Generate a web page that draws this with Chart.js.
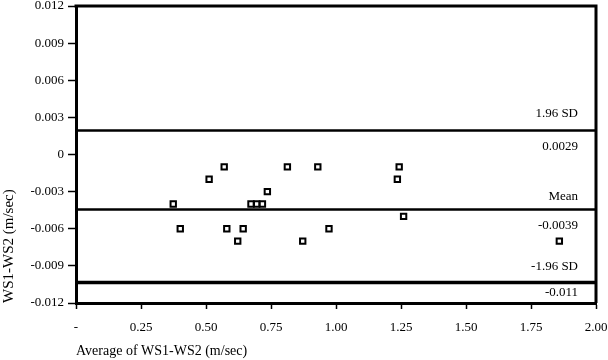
<!DOCTYPE html>
<html>
<head>
<meta charset="utf-8">
<script src="https://cdn.jsdelivr.net/npm/chart.js@4/dist/chart.umd.min.js"></script>
<style>
html,body{margin:0;padding:0;background:#fff;}
#wrap{width:608px;height:360px;position:relative;}
</style>
</head>
<body>
<div id="wrap"><canvas id="c" width="608" height="360"></canvas></div>
<script>
// Data
const avgValues  = [0.374, 0.401, 0.512, 0.570, 0.580, 0.622, 0.643, 0.673, 0.695, 0.717, 0.736, 0.813, 0.872, 0.930, 0.973, 1.236, 1.243, 1.260, 1.859];
const diffValues = [-0.004, -0.006, -0.002, -0.001, -0.006, -0.007, -0.006, -0.004, -0.004, -0.004, -0.003, -0.001, -0.007, -0.001, -0.006, -0.002, -0.001, -0.005, -0.007];
const refLineValues = [0.00193, -0.00445, -0.01035];   // +1.96 SD, mean, -1.96 SD (as drawn)
const refLineWidths = [2.5, 2.5, 3.5];
const labelsAbove = ['1.96 SD', 'Mean', '-1.96 SD'];
const labelsBelow = ['0.0029', '-0.0039', '-0.011'];
const xTicks = [0, 0.25, 0.5, 0.75, 1.0, 1.25, 1.5, 1.75, 2.0];
const yTicks = [0.012, 0.009, 0.006, 0.003, 0, -0.003, -0.006, -0.009, -0.012];

const FONT = 'Liberation Serif, "Times New Roman", serif';

const refLines = {
  id: 'refLines',
  afterDatasetsDraw(chart) {
    const {ctx, chartArea: a, scales: {y}} = chart;
    ctx.save();
    ctx.strokeStyle = '#000';
    // top and right frame
    ctx.lineWidth = 3;
    ctx.beginPath();
    ctx.moveTo(a.left - 1.5, a.top);
    ctx.lineTo(a.right, a.top);
    ctx.lineTo(a.right, a.bottom);
    ctx.stroke();
    ctx.font = '13px ' + FONT;
    ctx.fillStyle = '#000';
    ctx.textAlign = 'right';
    ctx.textBaseline = 'middle';
    const aboveOff = [17, 12.5, 16];
    const belowOff = [16, 16.5, 10];
    refLineValues.forEach((v, i) => {
      const py = y.getPixelForValue(v);
      ctx.lineWidth = refLineWidths[i];
      ctx.beginPath();
      ctx.moveTo(a.left, py);
      ctx.lineTo(a.right, py);
      ctx.stroke();
      ctx.fillText(labelsAbove[i], a.right - 18, py - aboveOff[i]);
      ctx.fillText(labelsBelow[i], a.right - 18, py + belowOff[i]);
    });
    ctx.restore();
  }
};

new Chart(document.getElementById('c'), {
  type: 'scatter',
  data: {
    datasets: [{
      data: avgValues.map((x, i) => ({x: x, y: diffValues[i]})),
      pointStyle: 'rect',
      pointRadius: 3.8,
      pointBorderWidth: 2,
      pointBackgroundColor: '#fff',
      pointBorderColor: '#000'
    }]
  },
  options: {
    responsive: false,
    animation: false,
    devicePixelRatio: 1,
    layout: {padding: {left: 0, right: 12, top: 4, bottom: 0}},
    plugins: {legend: {display: false}, tooltip: {enabled: false}},
    scales: {
      x: {
        type: 'linear', min: 0, max: 2,
        afterBuildTicks: s => { s.ticks = xTicks.map(v => ({value: v})); },
        afterFit: s => { s.height = 57; s.paddingLeft = 0; s.paddingRight = 0; },
        border: {color: '#000', width: 3},
        grid: {drawOnChartArea: false, drawTicks: true, tickLength: 6, tickWidth: 1.5, color: '#000'},
        ticks: {
          color: '#000', font: {family: FONT, size: 13}, padding: 11, maxRotation: 0, autoSkip: false,
          callback: v => v === 0 ? '-' : v.toFixed(2)
        },
        title: {display: true, text: 'Average of WS1-WS2 (m/sec)', color: '#000', align: 'start',
                font: {family: FONT, size: 14}, padding: {top: 0, bottom: 0}}
      },
      y: {
        type: 'linear', min: -0.012, max: 0.012,
        afterBuildTicks: s => { s.ticks = yTicks.map(v => ({value: v})); },
        afterFit: s => { s.width = 76; s.paddingTop = 0; s.paddingBottom = 0; },
        border: {color: '#000', width: 3},
        grid: {drawOnChartArea: false, drawTicks: true, tickLength: 8, tickWidth: 1.5, color: '#000'},
        ticks: {
          color: '#000', font: {family: FONT, size: 13}, padding: 4, autoSkip: false,
          callback: v => v === 0 ? '0' : v.toFixed(3)
        },
        title: {display: true, text: 'WS1-WS2 (m/sec)', color: '#000', align: 'start',
                font: {family: FONT, size: 15}, padding: {top: 0, bottom: 0}}
      }
    }
  },
  plugins: [refLines]
});
</script>
</body>
</html>
